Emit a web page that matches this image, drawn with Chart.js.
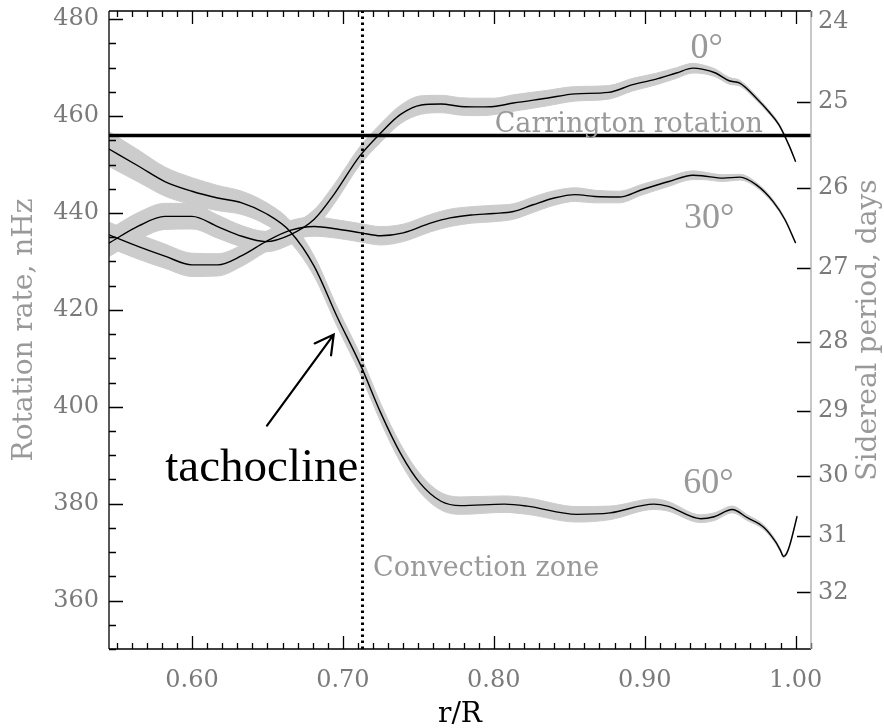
<!DOCTYPE html>
<html>
<head>
<meta charset="utf-8">
<script src="https://cdn.jsdelivr.net/npm/chart.js@4/dist/chart.umd.min.js"></script>
<style>
  html, body { margin: 0; padding: 0; background: #fff; }
  #wrap { width: 884px; height: 728px; }
</style>
</head>
<body>
<div id="wrap"><canvas id="c" width="884" height="728"></canvas></div>
<script>
// Solar internal rotation from helioseismology: rate (nHz) vs fractional radius r/R,
// with the one-sigma error used to draw the grey band around each latitude.

// Equator (0 deg)
const rEq    = [0.545, 0.565, 0.582, 0.600, 0.617, 0.633, 0.649, 0.665, 0.681, 0.694, 0.711, 0.725, 0.738, 0.752, 0.765, 0.778, 0.791, 0.800, 0.813, 0.835, 0.854, 0.876, 0.892, 0.907, 0.921, 0.932, 0.938, 0.947, 0.956, 0.963, 0.974, 0.982, 0.989, 0.996, 1.000];
const rateEq = [433.8, 437.4, 439.3, 439.3, 437.2, 435.2, 434.1, 435.5, 438.7, 443.8, 451.7, 456.5, 460.3, 462.3, 462.5, 462.0, 461.9, 462.0, 462.7, 463.7, 464.6, 464.9, 466.5, 467.6, 468.9, 469.9, 469.7, 468.9, 467.3, 466.8, 463.7, 461.0, 458.2, 453.7, 450.6];
const errEq  = [2.8, 2.8, 2.7, 2.6, 2.4, 2.2, 2.1, 2.0, 2.0, 2.0, 1.9, 1.9, 1.9, 1.9, 1.8, 1.8, 1.8, 1.7, 1.7, 1.6, 1.5, 1.4, 1.3, 1.2, 1.1, 1.0, 0.9, 0.8, 0.7, 0.6, 0.5, 0.4, 0.3, 0.2, 0.1];

// 30 deg latitude
const r30    = [0.545, 0.565, 0.582, 0.600, 0.617, 0.633, 0.649, 0.665, 0.681, 0.696, 0.712, 0.725, 0.740, 0.758, 0.771, 0.785, 0.800, 0.813, 0.826, 0.840, 0.854, 0.867, 0.883, 0.898, 0.916, 0.932, 0.938, 0.952, 0.963, 0.974, 0.985, 0.993, 1.000];
const rate30 = [435.5, 433.0, 431.1, 429.3, 429.3, 431.2, 434.1, 436.4, 437.2, 436.7, 435.9, 435.3, 435.9, 437.9, 439.0, 439.6, 439.9, 440.3, 441.7, 443.1, 443.8, 443.4, 443.3, 444.8, 446.5, 447.8, 447.7, 447.2, 447.4, 445.8, 442.4, 438.6, 433.8];
const err30  = [2.6, 2.6, 2.5, 2.4, 2.3, 2.2, 2.1, 2.0, 2.0, 1.9, 1.9, 1.9, 1.8, 1.8, 1.8, 1.7, 1.7, 1.6, 1.6, 1.5, 1.4, 1.3, 1.2, 1.1, 1.0, 0.9, 0.8, 0.7, 0.6, 0.5, 0.4, 0.3, 0.2];

// 60 deg latitude
const r60    = [0.545, 0.565, 0.582, 0.600, 0.617, 0.633, 0.649, 0.665, 0.681, 0.696, 0.712, 0.725, 0.738, 0.751, 0.765, 0.778, 0.807, 0.822, 0.855, 0.877, 0.906, 0.915, 0.937, 0.946, 0.958, 0.968, 0.979, 0.987, 0.990, 0.992, 0.994, 0.996, 1.001];
const rate60 = [453.2, 449.6, 446.5, 444.5, 443.1, 442.1, 439.9, 436.2, 429.0, 418.7, 408.4, 398.8, 390.5, 384.3, 380.5, 379.6, 379.9, 379.5, 377.8, 378.1, 379.9, 379.5, 376.9, 377.3, 378.8, 377.1, 375.1, 372.0, 370.3, 369.1, 369.7, 371.3, 377.4];
const err60  = [3.6, 3.3, 3.0, 2.8, 2.6, 2.4, 2.3, 2.2, 2.1, 2.0, 2.0, 1.9, 1.9, 1.9, 1.8, 1.8, 1.7, 1.7, 1.6, 1.4, 1.1, 1.0, 0.8, 0.8, 0.7, 0.6, 0.5, 0.4, 0.35, 0.3, 0.3, 0.25, 0.2];

// Reference levels
const carringtonRate = 456.0;   // nHz
const convectionBase = 0.713;   // r/R

// Axis ticks
const rateTicks   = [360, 380, 400, 420, 440, 460, 480];
const periodTicks = [24, 25, 26, 27, 28, 29, 30, 31, 32];
const radiusTicks = [0.60, 0.70, 0.80, 0.90, 1.00];

const xMin = 0.545, xMax = 1.0102;
const yMin = 350, yMax = 481.7;

const SECONDS_PER_DAY = 86400;
const periodToRate = p => 1e9 / (p * SECONDS_PER_DAY);

const GREY_TEXT = '#999999';
const TICK_TEXT = '#7a7a7a';
const BAND = '#cccccc';

const toPoints = (r, v) => r.map((x, i) => ({ x, y: v[i] }));
const offsetPoints = (r, v, e, s) => r.map((x, i) => ({ x, y: v[i] + s * e[i] }));

const bandSet = (data, fill) => ({
  data, fill, backgroundColor: BAND, borderColor: BAND, borderWidth: 1,
  pointRadius: 0, cubicInterpolationMode: 'monotone', order: 2
});
const curveSet = data => ({
  data, fill: false, borderColor: '#000', borderWidth: 1.4,
  pointRadius: 0, cubicInterpolationMode: 'monotone', order: 1
});

// Tick marks and frame, drawn over the bands
const framePlugin = {
  id: 'frame',
  afterDatasetsDraw(chart) {
    const { ctx, chartArea: a, scales: { x, y } } = chart;
    ctx.save();
    ctx.strokeStyle = '#000';
    ctx.lineWidth = 1.3;
    ctx.beginPath();
    for (let v = 350; v <= 480; v += 5) {
      const py = Math.round(y.getPixelForValue(v)) + 0.5;
      const len = rateTicks.includes(v) ? 14 : 7;
      ctx.moveTo(a.left, py); ctx.lineTo(a.left + len, py);
    }
    for (let k = 55; k <= 101; k++) {
      const px = Math.round(x.getPixelForValue(k / 100)) + 0.5;
      const len = k % 10 === 0 ? 13 : 6;
      ctx.moveTo(px, a.bottom); ctx.lineTo(px, a.bottom - len);
      ctx.moveTo(px, a.top); ctx.lineTo(px, a.top + len);
    }
    periodTicks.forEach(p => {
      const v = periodToRate(p);
      if (v <= yMax) {
        const py = Math.round(y.getPixelForValue(v)) + 0.5;
        ctx.moveTo(a.right, py); ctx.lineTo(a.right - 14, py);
      }
    });
    ctx.stroke();

    ctx.beginPath();
    ctx.moveTo(a.left, a.top); ctx.lineTo(a.left, a.bottom);
    ctx.moveTo(a.left, a.bottom); ctx.lineTo(a.right, a.bottom);
    ctx.moveTo(a.left, a.top); ctx.lineTo(a.right, a.top);
    ctx.stroke();

    ctx.strokeStyle = '#aaaaaa';
    ctx.beginPath();
    ctx.moveTo(a.right, a.top); ctx.lineTo(a.right, a.bottom);
    ctx.stroke();
    ctx.restore();
  }
};

// Labels, arrow and axis titles
const notesPlugin = {
  id: 'notes',
  afterDraw(chart) {
    const { ctx, chartArea: a, scales: { x, y } } = chart;
    const put = (text, r, v, font, color) => {
      ctx.font = font; ctx.fillStyle = color;
      ctx.textAlign = 'left'; ctx.textBaseline = 'alphabetic';
      ctx.fillText(text, x.getPixelForValue(r), y.getPixelForValue(v));
    };
    ctx.save();
    put('0\u00B0',  0.9304, 472.0, '36px "Liberation Serif"', GREY_TEXT);
    put('30\u00B0', 0.9261, 437.0, '36px "Liberation Serif"', GREY_TEXT);
    put('60\u00B0', 0.9256, 382.1, '36px "Liberation Serif"', GREY_TEXT);
    put('Carrington rotation', 0.8006, 456.8, '27px "DejaVu Serif"', GREY_TEXT);
    put('Convection zone', 0.7200, 365.0, '27px "DejaVu Serif"', GREY_TEXT);
    put('tachocline', 0.5823, 384.6, '47px "Liberation Serif"', '#000');

    // arrow pointing at the tachocline
    const tx = x.getPixelForValue(0.6497), ty = y.getPixelForValue(396.1);
    const hx = x.getPixelForValue(0.6939), hy = y.getPixelForValue(414.9);
    const ang = Math.atan2(ty - hy, tx - hx);
    const head = 21, spread = 29 * Math.PI / 180;
    ctx.strokeStyle = '#000'; ctx.lineWidth = 2.2; ctx.lineCap = 'round';
    ctx.beginPath();
    ctx.moveTo(tx, ty); ctx.lineTo(hx, hy);
    ctx.moveTo(hx + head * Math.cos(ang - spread), hy + head * Math.sin(ang - spread));
    ctx.lineTo(hx, hy);
    ctx.lineTo(hx + head * Math.cos(ang + spread), hy + head * Math.sin(ang + spread));
    ctx.stroke();

    // axis titles
    const midY = (a.top + a.bottom) / 2;
    ctx.font = '28px "DejaVu Serif"'; ctx.fillStyle = GREY_TEXT;
    ctx.textAlign = 'center'; ctx.textBaseline = 'middle';
    ctx.save(); ctx.translate(25, midY); ctx.rotate(-Math.PI / 2);
    ctx.fillText('Rotation rate, nHz', 0, 0); ctx.restore();
    ctx.save(); ctx.translate(869, midY); ctx.rotate(-Math.PI / 2);
    ctx.fillText('Sidereal period, days', 0, 0); ctx.restore();
    ctx.font = '28px "DejaVu Serif"'; ctx.fillStyle = '#000';
    ctx.textBaseline = 'alphabetic';
    ctx.fillText('r/R', 460, 722);
    ctx.restore();
  }
};

const tickFont = { family: 'DejaVu Serif', size: 24 };

new Chart(document.getElementById('c'), {
  type: 'line',
  data: {
    datasets: [
      bandSet(offsetPoints(rEq, rateEq, errEq, 1), 1),
      bandSet(offsetPoints(rEq, rateEq, errEq, -1), false),
      bandSet(offsetPoints(r30, rate30, err30, 1), 3),
      bandSet(offsetPoints(r30, rate30, err30, -1), false),
      bandSet(offsetPoints(r60, rate60, err60, 1), 5),
      bandSet(offsetPoints(r60, rate60, err60, -1), false),
      curveSet(toPoints(rEq, rateEq)),
      curveSet(toPoints(r30, rate30)),
      curveSet(toPoints(r60, rate60)),
      { data: [{ x: xMin, y: carringtonRate }, { x: xMax, y: carringtonRate }],
        borderColor: '#000', borderWidth: 3.5, pointRadius: 0, fill: false, order: 0 },
      { data: [{ x: convectionBase, y: yMin }, { x: convectionBase, y: yMax }],
        borderColor: '#000', borderWidth: 3, borderDash: [2.5, 3.5], pointRadius: 0, fill: false, order: 0 }
    ]
  },
  options: {
    responsive: false,
    animation: false,
    devicePixelRatio: 1,
    layout: { padding: { top: 11, left: 0, right: 0, bottom: 0 } },
    plugins: { legend: { display: false }, tooltip: { enabled: false } },
    scales: {
      x: {
        type: 'linear', position: 'bottom', min: xMin, max: xMax,
        grid: { display: false, drawTicks: false }, border: { display: false },
        afterBuildTicks: s => { s.ticks = radiusTicks.map(v => ({ value: v })); },
        ticks: { color: TICK_TEXT, font: tickFont, padding: 17, maxRotation: 0, autoSkip: false,
                 callback: v => v.toFixed(2) },
        afterFit: s => { s.height = 79; s.paddingLeft = 0; s.paddingRight = 0; }
      },
      y: {
        type: 'linear', position: 'left', min: yMin, max: yMax,
        grid: { display: false, drawTicks: false }, border: { display: false },
        afterBuildTicks: s => { s.ticks = rateTicks.map(v => ({ value: v })); },
        ticks: { color: TICK_TEXT, font: tickFont, padding: 10, autoSkip: false,
                 callback: v => String(v) },
        afterFit: s => { s.width = 109; s.paddingTop = 0; s.paddingBottom = 0; }
      },
      y2: {
        type: 'linear', position: 'right', min: yMin, max: yMax, display: true,
        grid: { display: false, drawTicks: false }, border: { display: false },
        afterBuildTicks: s => {
          s.ticks = periodTicks.map(p => ({ value: Math.min(periodToRate(p), yMax - 2.2) }));
        },
        ticks: { color: TICK_TEXT, font: tickFont, padding: 7, autoSkip: false,
                 callback: (v, i) => String(periodTicks[i]) },
        afterFit: s => { s.width = 73; s.paddingTop = 0; s.paddingBottom = 0; }
      }
    }
  },
  plugins: [framePlugin, notesPlugin]
});
</script>
</body>
</html>
